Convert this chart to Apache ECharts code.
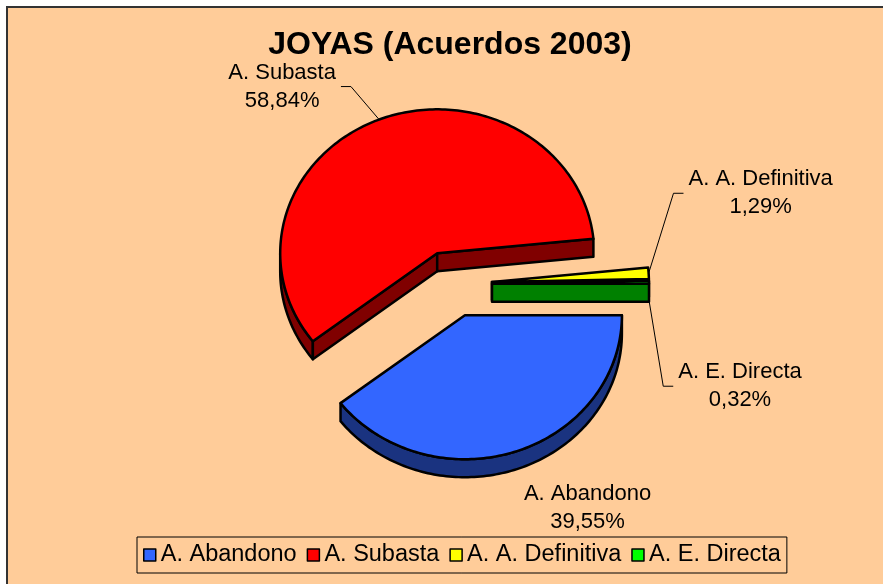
<!DOCTYPE html>
<html>
<head>
<meta charset="utf-8">
<script src="https://cdn.jsdelivr.net/npm/echarts@6/dist/echarts.min.js"></script>
<style>
  html, body { margin: 0; background: #fff; }
  #chart { width: 883px; height: 584px; }
</style>
</head>
<body>
<div id="chart"></div>
<script>
// ─── Data ────────────────────────────────────────
const categories = ['A. Abandono', 'A. Subasta', 'A. A. Definitiva', 'A. E. Directa'];
const shares = [39.55, 58.84, 1.29, 0.32];
const topColors = ['#3366ff', '#ff0000', '#ffff00', '#00ff00'];
const sideColors = ['#1a3380', '#800000', '#808000', '#008000'];

// ─── Layout (Excel-style 3D exploded pie) ────────
const PIE = { cx: 452, cy: 284, rx: 157, ry: 144, depth: 18, explodeX: 40, explodeY: 33 };
const LABEL_FONT = '22px "Liberation Sans", Arial, sans-serif';
// label block centre, relative to the rim point at the slice's mid angle
const labelShift = [
  { dx: 72, dy: 56, leader: false },
  { dx: -97, dy: -33, leader: true },
  { dx: 112, dy: -80, leader: true },
  { dx: 91, dy: 86, leader: true, fromBase: true }
];

const total = shares.reduce((a, b) => a + b, 0);
const slices = [];
let acc = 0;
shares.forEach(v => {
  const a0 = acc / total * Math.PI * 2;
  acc += v;
  const a1 = acc / total * Math.PI * 2;
  slices.push({ a0, a1, mid: (a0 + a1) / 2 });
});

const measureCtx = document.createElement('canvas').getContext('2d');
function textWidth(str) {
  measureCtx.font = LABEL_FONT;
  return measureCtx.measureText(str).width;
}

function fmtPct(v) {
  return (v / total * 100).toFixed(2).replace('.', ',') + '%';
}

function renderSlice(params, api) {
  const i = params.dataIndex;
  const s = slices[i];
  const ox = PIE.cx + PIE.explodeX * Math.cos(s.mid);
  const oy = PIE.cy + PIE.explodeY * Math.sin(s.mid);
  const rim = (a, dy) => [ox + PIE.rx * Math.cos(a), oy + PIE.ry * Math.sin(a) + (dy || 0)];
  const arc = (from, to, dy) => {
    const pts = [];
    const n = Math.max(2, Math.ceil(Math.abs(to - from) / 0.02));
    for (let k = 0; k <= n; k++) pts.push(rim(from + (to - from) * k / n, dy));
    return pts;
  };
  const depth = PIE.depth;
  const zBase = Math.round((Math.sin(s.mid) + 1) * 100) * 10;
  const edge = { stroke: '#000', lineWidth: 2.5, lineJoin: 'round' };
  const children = [];

  // outer wall, only the front half can be seen
  const f0 = Math.max(s.a0, 0), f1 = Math.min(s.a1, Math.PI);
  if (f1 > f0) {
    children.push({
      type: 'polygon', z2: zBase + 1,
      shape: { points: arc(f0, f1).concat(arc(f1, f0, depth)) },
      style: Object.assign({ fill: sideColors[i] }, edge)
    });
  }

  // cut faces left visible by the explosion
  const face = a => [[ox, oy], rim(a), rim(a, depth), [ox, oy + depth]];
  if (Math.cos(s.a0) < 0) {
    children.push({ type: 'polygon', z2: zBase + 1, shape: { points: face(s.a0) },
      style: Object.assign({ fill: sideColors[i] }, edge) });
  }
  if (Math.cos(s.a1) > 0) {
    children.push({ type: 'polygon', z2: zBase + 1, shape: { points: face(s.a1) },
      style: Object.assign({ fill: sideColors[i] }, edge) });
  }

  // top face
  children.push({
    type: 'polygon', z2: zBase + 2,
    shape: { points: [[ox, oy]].concat(arc(s.a0, s.a1)) },
    style: Object.assign({ fill: topColors[i] }, edge)
  });

  // label + leader line
  const ls = labelShift[i];
  const anchor = rim(s.mid, ls.fromBase ? depth : 0);
  const tx = anchor[0] + ls.dx, ty = anchor[1] + ls.dy;
  const name = categories[i], pct = fmtPct(shares[i]);
  children.push({
    type: 'text', z2: 3000, x: tx, y: ty,
    style: {
      text: name + '\n' + pct, font: LABEL_FONT, fill: '#000',
      align: 'center', verticalAlign: 'middle', lineHeight: 28
    }
  });
  if (ls.leader) {
    const hw = Math.max(textWidth(name), textWidth(pct)) / 2;
    const sgn = ls.dx < 0 ? 1 : -1;
    children.push({
      type: 'polyline', z2: 3000,
      shape: { points: [anchor, [tx + sgn * (hw + 15), ty], [tx + sgn * (hw + 5), ty]] },
      style: { stroke: '#000', lineWidth: 1, fill: null }
    });
  }

  return { type: 'group', children };
}

const chart = echarts.init(document.getElementById('chart'));
chart.setOption({
  animation: false,
  backgroundColor: '#ffffff',
  graphic: [{
    type: 'rect', z: -10, silent: true,
    shape: { x: 7, y: 7, width: 900, height: 600 },
    style: { fill: '#ffcc99', stroke: '#333', lineWidth: 2 }
  }],
  title: {
    text: 'JOYAS (Acuerdos 2003)',
    left: 445, top: 24, textAlign: 'center',
    textStyle: { fontFamily: '"Liberation Sans", Arial, sans-serif', fontWeight: 'bold', fontSize: 32, color: '#000' }
  },
  legend: {
    left: 137, top: 537,
    padding: [6, 6],
    itemGap: 10, itemWidth: 12, itemHeight: 12,
    icon: 'rect',
    borderColor: '#000', borderWidth: 1,
    itemStyle: { borderColor: '#000', borderWidth: 1.5 },
    textStyle: { fontFamily: '"Liberation Sans", Arial, sans-serif', fontSize: 23.5, color: '#000', lineHeight: 22 },
    data: categories
  },
  series: [
    {
      type: 'custom',
      coordinateSystem: 'none',
      renderItem: renderSlice,
      data: shares.map((v, i) => ({ name: categories[i], value: v }))
    },
    {
      // invisible pie, only feeds the legend
      type: 'pie', radius: 0, center: [PIE.cx, PIE.cy], silent: true,
      label: { show: false }, labelLine: { show: false },
      data: shares.map((v, i) => ({ name: categories[i], value: v, itemStyle: { color: topColors[i] } }))
    }
  ]
});
</script>
</body>
</html>
